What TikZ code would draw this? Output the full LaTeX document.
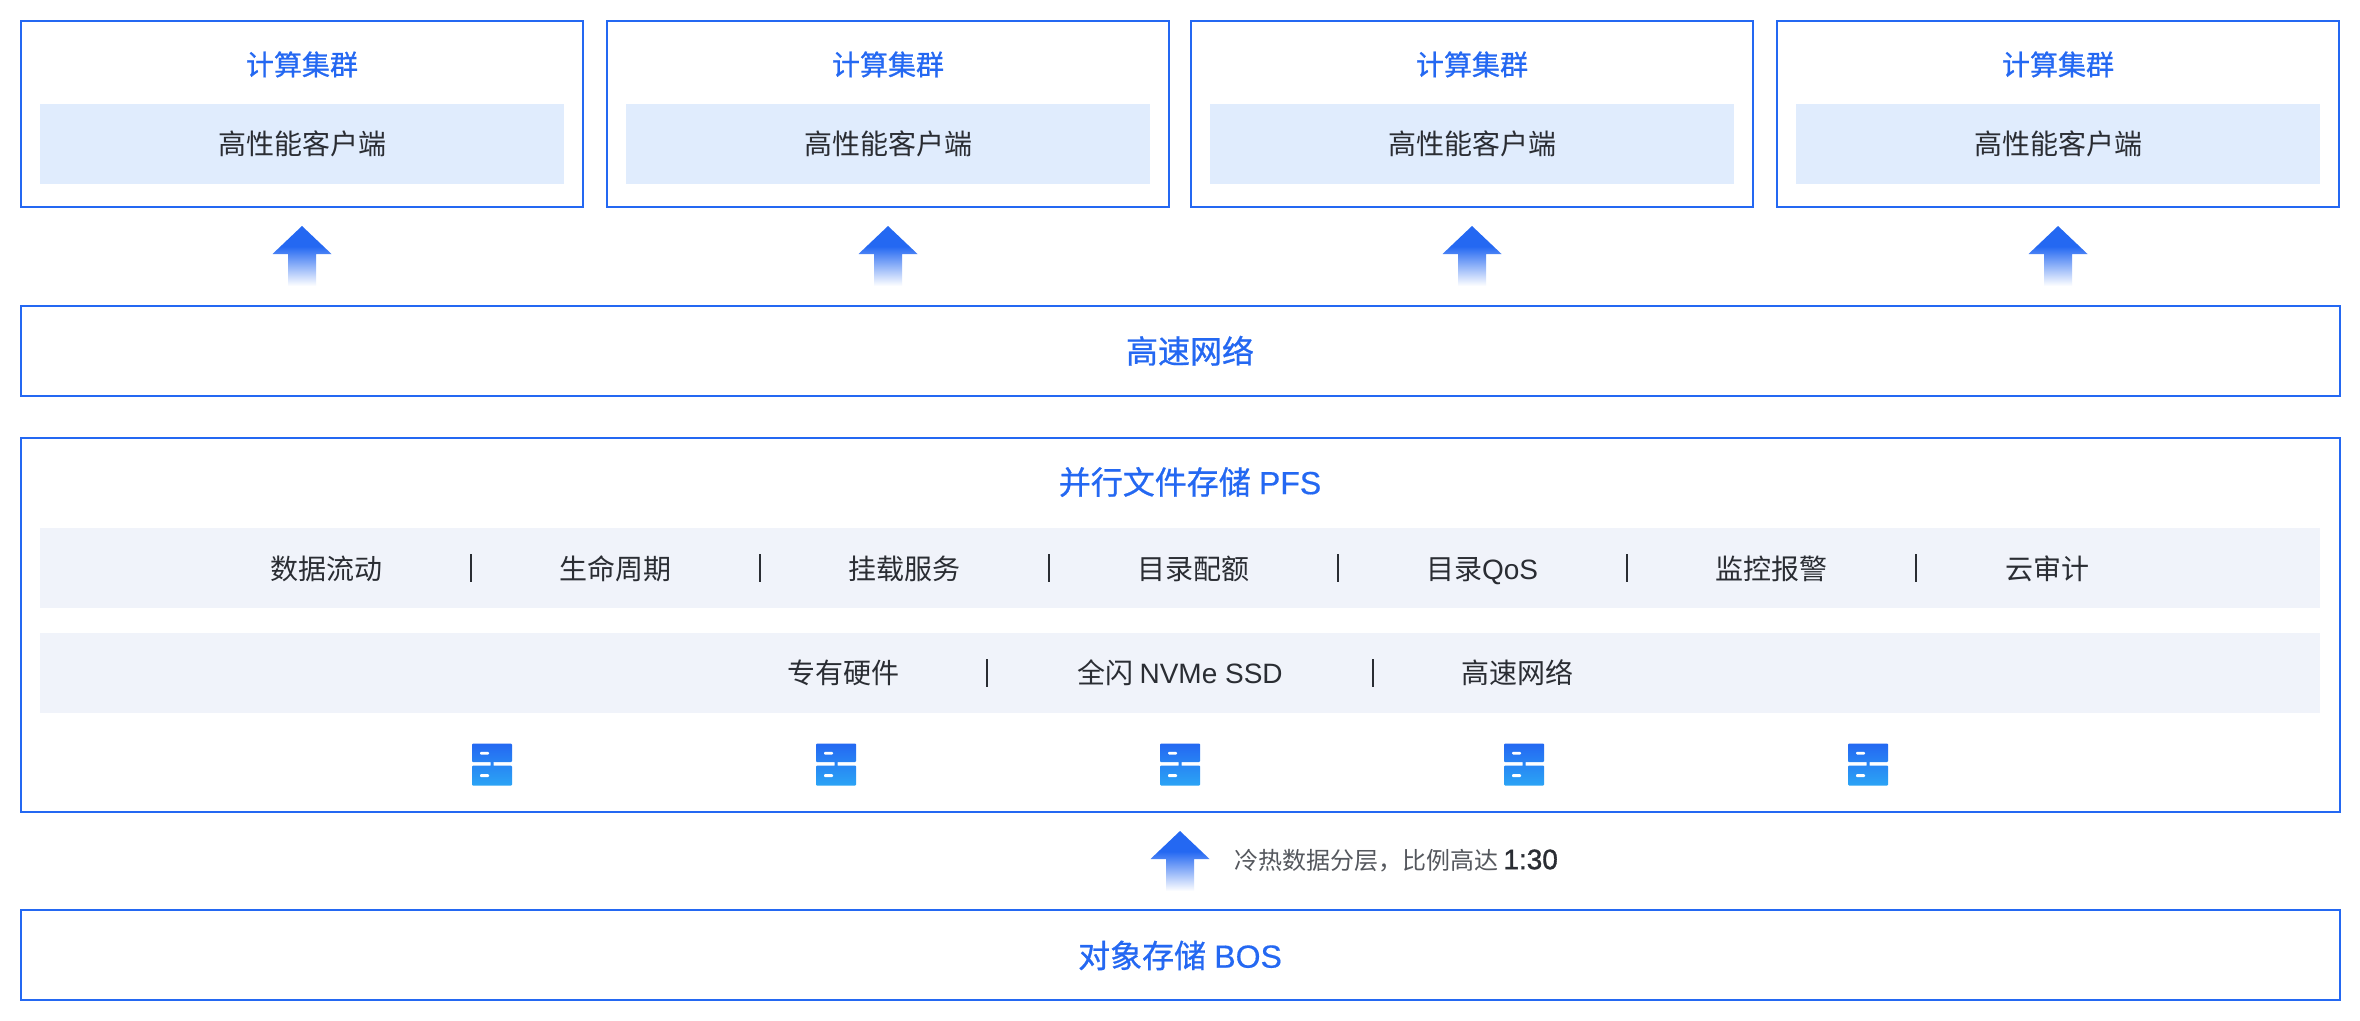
\documentclass[tikz,border=0pt]{standalone}
\usepackage{fontspec}
\newfontfamily\cjk{Noto Sans CJK SC}
\newfontfamily\cjkm[FakeBold=0.8]{Noto Sans CJK SC}
\newfontfamily\lat{Liberation Sans}
\newfontfamily\latm[FakeBold=0.5]{Liberation Sans}
\newfontfamily\latb[FakeBold=1.2]{Liberation Sans}
\definecolor{bdblue}{HTML}{2468F2}
\definecolor{iconb}{HTML}{2BA4F5}
\definecolor{lightblue}{HTML}{E0ECFD}
\definecolor{rowgray}{HTML}{F0F3FA}
\definecolor{inkdark}{HTML}{2A2D33}
\definecolor{inkgray}{HTML}{55585E}
\pgfdeclareverticalshading{arrowfade}{100bp}{color(0bp)=(white); color(25bp)=(white); color(58bp)=(bdblue); color(100bp)=(bdblue)}
\tikzset{
  framebox/.style={draw=bdblue,line width=2pt,fill=white,inner sep=0pt,outer sep=0pt,rectangle},
  fillrow/.style={fill=#1,inner sep=0pt,outer sep=0pt,rectangle},
  txt/.style={inner sep=0pt,outer sep=0pt,text height=#1*0.88pt,text depth=#1*0.12pt,align=center},
  title/.style={txt=28,font=\fontsize{28}{28}\selectfont\cjkm,text=bdblue},
  bigtitle/.style={txt=32,font=\fontsize{32}{32}\selectfont\cjkm,text=bdblue},
  item/.style={txt=28,font=\fontsize{28}{28}\selectfont\cjk,text=inkdark},
  sepline/.style={draw=inkdark,line width=1.8pt},
  pics/fadearrow/.style args={#1/#2/#3}{code={
    \shade[shading=arrowfade] (0,0) -- (#1,#2) -- (14,#2) -- (14,#3) -- (-14,#3) -- (-14,#2) -- (-#1,#2) -- cycle;
  }},
  pics/servericon/.style={code={
    \shade[top color=bdblue,bottom color=iconb,rounded corners=1pt]
      (-20,0) rectangle (20,18.7)
      (-1.5,18) rectangle (1.5,23)
      (-20,22) rectangle (20,42);
    \fill[white,rounded corners=1pt] (-12,8.3) rectangle (-3,11);
    \fill[white,rounded corners=1pt] (-12,30.7) rectangle (-3,33.7);
  }}
}
\begin{document}
\begin{tikzpicture}[x=1pt,y=-1pt]
\useasboundingbox (0,0) rectangle (2360,1020);
\fill[white] (0,0) rectangle (2360,1020);
% top clusters
\foreach \i/\cx in {1/302,2/888,3/1472,4/2058}{
  \node[framebox,minimum width=562pt,minimum height=185.5pt] (cluster\i) at (\cx,114) {};
  \node[fillrow=lightblue,minimum width=524pt,minimum height=80pt] (client\i) at (\cx,144) {};
  \node[title] (ctitle\i) at (\cx,64.5) {计算集群};
  \node[item] (ctext\i) at (\cx,144) {高性能客户端};
  \pic at (\cx,226) {fadearrow={29.5/28/60}};
}
% network
\node[framebox,minimum width=2319pt,minimum height=90pt] (net) at (1180.5,350.5) {};
\node[bigtitle] (nettext) at (1190,351) {高速网络};
% PFS
\node[framebox,minimum width=2319pt,minimum height=374pt] (pfs) at (1180.5,624.5) {};
\node[bigtitle] (pfstitle) at (1190,482) {并行文件存储\hspace{1pt} {\latm PFS}};
\node[fillrow=rowgray,minimum width=2280pt,minimum height=80pt] (row1) at (1180,568) {};
\node[fillrow=rowgray,minimum width=2280pt,minimum height=80pt] (row2) at (1180,672.5) {};
\foreach \n/\x/\t in {a/326/数据流动,b/615/生命周期,c/904/挂载服务,d/1193/目录配额,e/1482/{目录{\lat QoS}},f/1771/监控报警,g/2047/云审计}{
  \node[item] (r1\n) at (\x,569) {\t};
}
\foreach \x in {471,760,1049,1338,1627,1916}{
  \draw[sepline] (\x,554) -- (\x,582);
}
\node[item] (r2a) at (843,672.5) {专有硬件};
\node[item] (r2b) at (1180,672.5) {全闪 {\lat NVMe SSD}};
\node[item] (r2c) at (1517,672.5) {高速网络};
\foreach \x in {987,1372.6}{
  \draw[sepline] (\x,659) -- (\x,687);
}
\foreach \x in {492,836,1180,1524,1868}{
  \pic at (\x,743.5) {servericon};
}
% tier arrow
\pic at (1180,831) {fadearrow={29.5/28/60}};
\node[txt=24,anchor=west,font=\fontsize{24}{24}\selectfont\cjk,text=inkgray] (tier) at (1234,860)
  {冷热数据分层，比例高达 {\fontsize{28}{28}\selectfont\latb\textcolor{inkdark}{1:30}}};
% object storage
\node[framebox,minimum width=2319pt,minimum height=90pt] (bos) at (1180.5,954.5) {};
\node[bigtitle] (bostext) at (1180,955.5) {对象存储\hspace{1pt} {\latm BOS}};
\end{tikzpicture}
\end{document}
